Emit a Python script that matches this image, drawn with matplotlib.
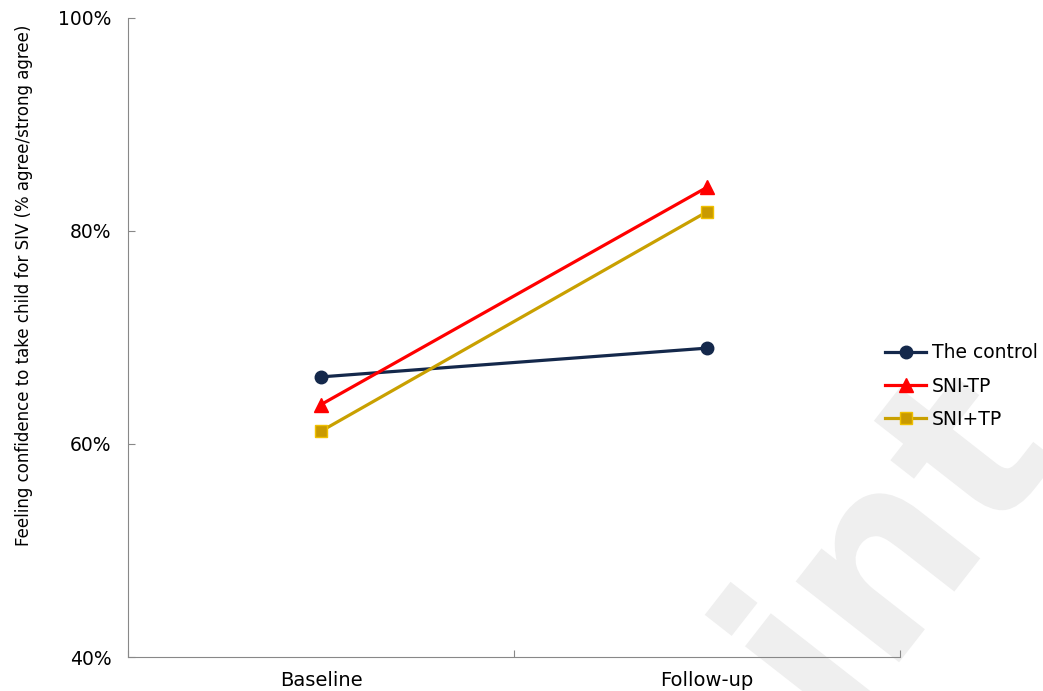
import matplotlib.pyplot as plt
from matplotlib.ticker import FixedLocator, PercentFormatter
from matplotlib.textpath import TextPath
from matplotlib.patches import PathPatch
from matplotlib.font_manager import FontProperties
from matplotlib.transforms import Affine2D

# data
timepoints = ["Baseline", "Follow-up"]
control = [66.3, 69.0]
sni_minus_tp = [63.7, 84.1]
sni_plus_tp = [61.2, 81.8]

fig = plt.figure(figsize=(10.43, 6.91), dpi=100)
ax = fig.add_axes([0.1227, 0.0492, 0.7402, 0.9248])

# faint watermark in the lower right, drawn as a shape behind everything
wm = TextPath((0, 0), "int", size=240, prop=FontProperties(family="DejaVu Sans", weight="bold"))
wm_patch = PathPatch(wm, facecolor="#efefef", edgecolor="none", zorder=-1,
                     transform=Affine2D().rotate_deg(52).translate(836, -52))
fig.add_artist(wm_patch)

x = [0.5, 1.5]
ax.plot(x, control, color="#14284b", lw=2.3, marker="o", ms=9, label="The control", zorder=3)
ax.plot(x, sni_minus_tp, color="#ff0000", lw=2.3, marker="^", ms=10, label="SNI-TP", zorder=3)
ax.plot(x, sni_plus_tp, color="#c9a000", lw=2.3, marker="s", ms=9, mfc="#c99a00",
        mec="#f0c000", label="SNI+TP", zorder=3)

ax.set_xlim(0, 2)
ax.set_ylim(40, 100)
ax.set_yticks([40, 60, 80, 100])
ax.yaxis.set_major_formatter(PercentFormatter(decimals=0))
ax.set_xticks([0, 1, 2])
ax.set_xticklabels([])
ax.xaxis.set_minor_locator(FixedLocator(x))
ax.set_xticklabels(timepoints, minor=True)
ax.tick_params(axis="x", which="major", direction="in", length=5, color="#888888")
ax.tick_params(axis="x", which="minor", length=0, pad=10, labelsize=14)
ax.tick_params(axis="y", direction="in", length=5, color="#888888", pad=12, labelsize=13.5)

for s in ["top", "right"]:
    ax.spines[s].set_visible(False)
for s in ["left", "bottom"]:
    ax.spines[s].set_color("#888888")
ax.patch.set_alpha(0)

ax.set_ylabel("Feeling confidence to take child for SIV (% agree/strong agree)", fontsize=12)
ax.yaxis.set_label_coords(-0.123, 0.582)

fig.legend(loc="center left", bbox_to_anchor=(0.8485, (691 - 386) / 691), frameon=False,
           fontsize=13.5, handlelength=2.2, handletextpad=0.3, labelspacing=0.75,
           borderpad=0, borderaxespad=0)

fig.savefig("out.png", dpi=100)
